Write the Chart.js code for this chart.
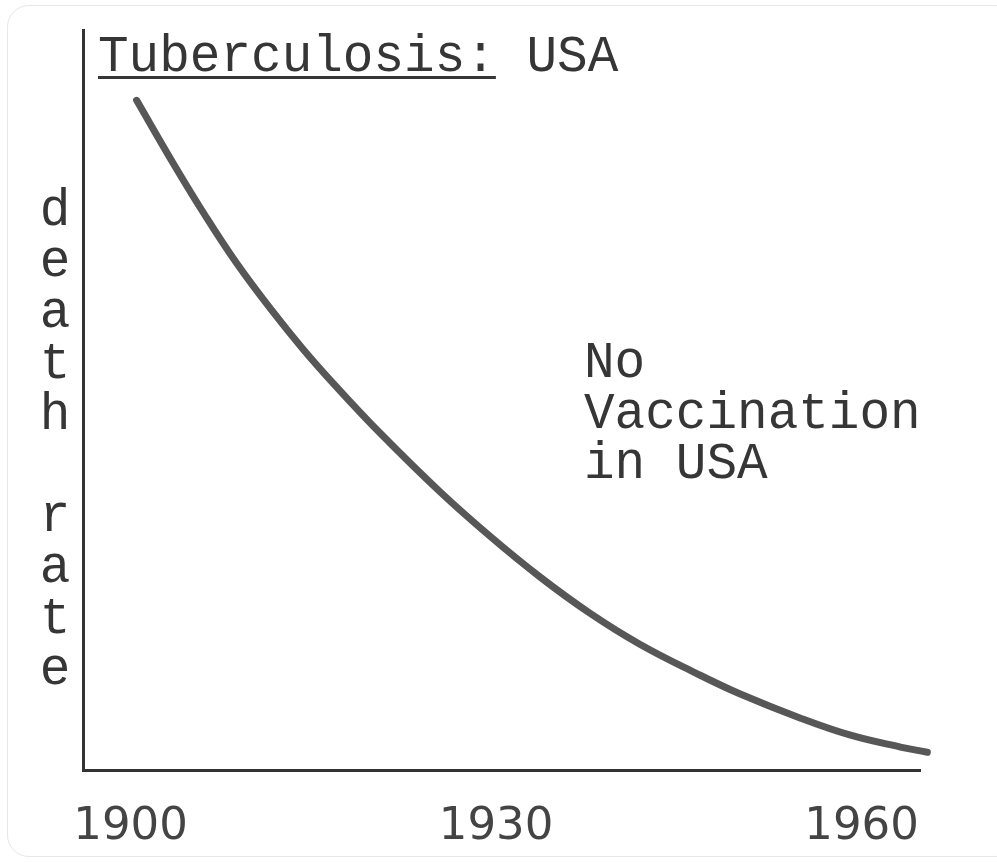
<!DOCTYPE html>
<html>
<head>
<meta charset="utf-8">
<script src="https://cdn.jsdelivr.net/npm/chart.js@4/dist/chart.umd.min.js"></script>
<style>
  html, body { margin: 0; padding: 0; background: #fff; }
  #wrap { position: relative; width: 997px; height: 863px; overflow: hidden; }
  #card { position: absolute; left: 7px; top: 5px; width: 1010px; height: 852px;
          border: 1px solid #e3e8ec; border-radius: 22px; box-sizing: border-box; }
  #myChart { position: absolute; left: 0; top: 0; }
</style>
</head>
<body>
<div id="wrap">
  <div id="card"></div>
  <canvas id="myChart" width="997" height="863"></canvas>
</div>
<script>
// values (death rate in arbitrary units, 0-100)
var years = [1900.5, 1903.5, 1906.1, 1908.7, 1911.5, 1914.2, 1917.0, 1920.5, 1925.4, 1929.5,
             1933.6, 1937.7, 1941.8, 1946.4, 1950.0, 1955.0, 1959.1, 1963.2, 1965.4];
var rates = [90.5, 82.0, 75.0, 68.5, 62.3, 56.8, 51.6, 45.5, 37.6, 31.6,
             26.1, 21.2, 17.0, 13.1, 10.3, 7.0, 4.7, 3.1, 2.4];
var xTicks = [1900, 1930, 1960];

var titleMain = 'Tuberculosis:';
var titleRest = ' USA';
var yLabel = 'death rate';
var note = ['No', 'Vaccination', 'in USA'];

var ink = '#363636';
var mono = '51px "Liberation Mono", "DejaVu Sans Mono", monospace';

var textPlugin = {
  id: 'textPlugin',
  afterDraw: function(chart){
    var ctx = chart.ctx;
    ctx.save();
    ctx.fillStyle = ink;
    ctx.font = mono;
    ctx.textBaseline = 'alphabetic';
    ctx.textAlign = 'left';

    // title, first word underlined
    ctx.fillText(titleMain + titleRest, 98, 71);
    var w = ctx.measureText(titleMain).width;
    ctx.fillRect(98, 76, w, 3);

    // stacked y label
    ctx.textAlign = 'center';
    for(var i=0; i<yLabel.length; i++){
      ctx.fillText(yLabel[i], 55, 225 + 51*i);
    }

    // annotation
    ctx.textAlign = 'left';
    for(var j=0; j<note.length; j++){
      ctx.fillText(note[j], 584, 377 + 50.5*j);
    }
    ctx.restore();
  }
};

function renderChart(){
  var ctx = document.getElementById('myChart').getContext('2d');
  var points = years.map(function(y, i){ return {x: y, y: rates[i]}; });
  new Chart(ctx, {
    type: 'line',
    data: {
      datasets: [{
        label: 'death rate',
        data: points,
        borderColor: '#575757',
        borderWidth: 7,
        borderCapStyle: 'round',
        borderJoinStyle: 'round',
        pointRadius: 0,
        tension: 0.4,
        clip: false
      }]
    },
    options: {
      responsive: false,
      devicePixelRatio: 1,
      animation: false,
      layout: { padding: { top: 30, right: 77, left: 0, bottom: 0 } },
      plugins: { legend: { display: false }, tooltip: { enabled: false } },
      scales: {
        x: {
          type: 'linear',
          min: 1896.1,
          max: 1964.8,
          grid: { display: false, drawTicks: false },
          border: { display: true, color: '#333', width: 3 },
          ticks: {
            color: '#444',
            padding: 30,
            font: { family: '"DejaVu Sans", sans-serif', size: 45 },
            callback: function(v){ return String(v); }
          },
          afterBuildTicks: function(scale){
            scale.ticks = xTicks.map(function(v){ return {value: v}; });
          },
          afterFit: function(scale){ scale.height = 93; }
        },
        y: {
          min: 0,
          max: 100,
          grid: { display: false, drawTicks: false },
          border: { display: true, color: '#333', width: 3 },
          ticks: { display: false },
          afterFit: function(scale){ scale.width = 83; }
        }
      }
    },
    plugins: [textPlugin]
  });
}

document.addEventListener('DOMContentLoaded', renderChart);
</script>
</body>
</html>
